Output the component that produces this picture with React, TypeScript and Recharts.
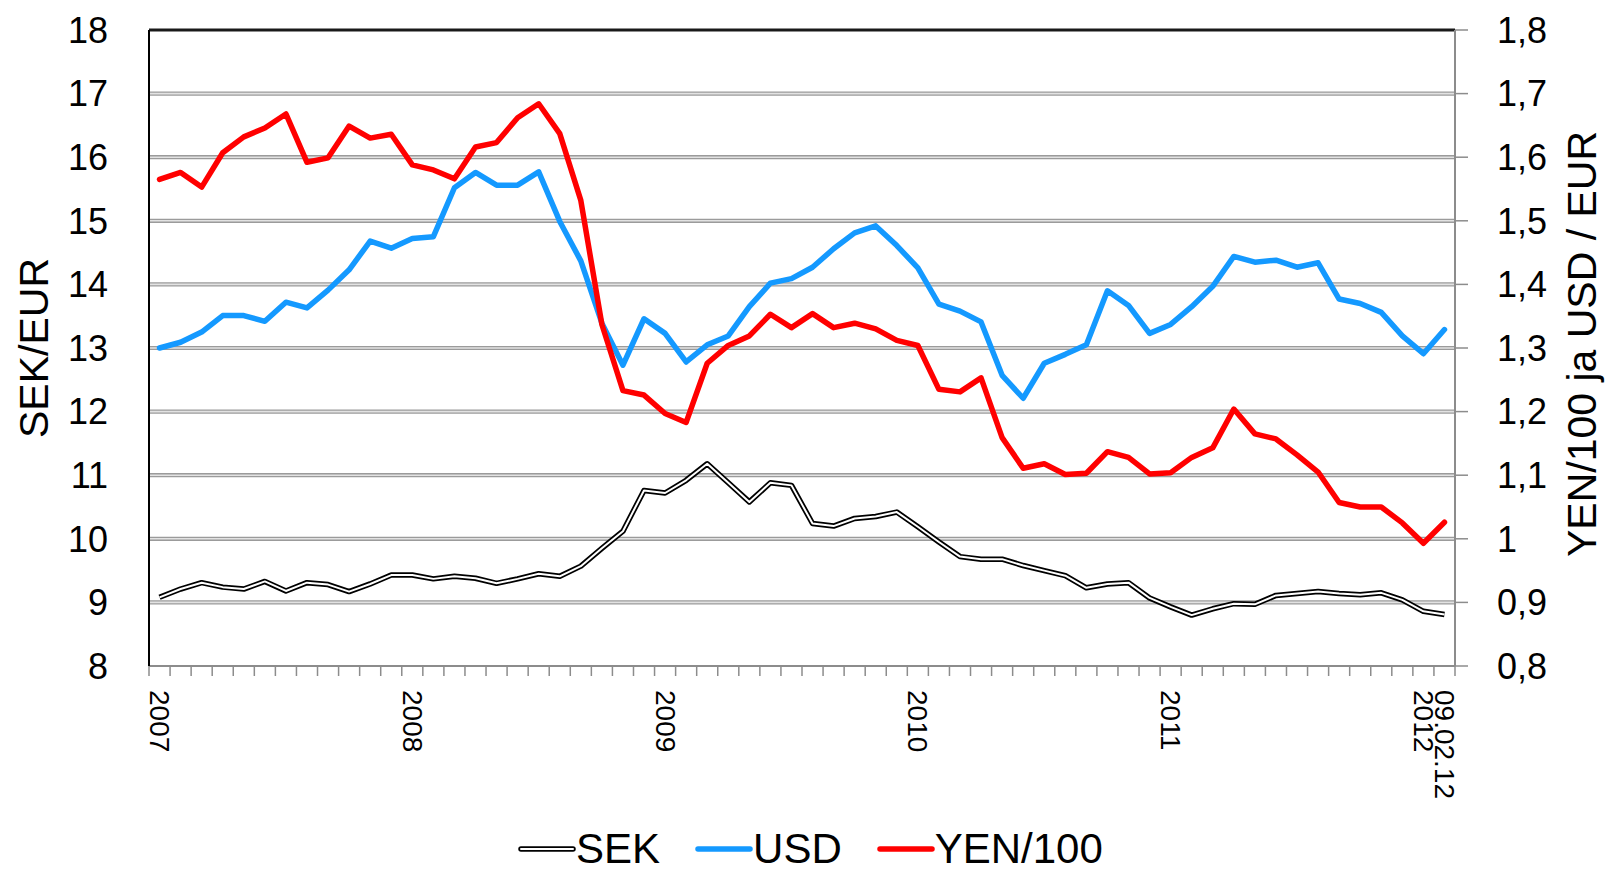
import { LineChart, Line, XAxis, YAxis, CartesianGrid, ReferenceLine, Label } from "recharts";

const categories = [
  "01/07", "02/07", "03/07", "04/07", "05/07", "06/07", "07/07", "08/07", "09/07", "10/07", "11/07", "12/07",
  "01/08", "02/08", "03/08", "04/08", "05/08", "06/08", "07/08", "08/08", "09/08", "10/08", "11/08", "12/08",
  "01/09", "02/09", "03/09", "04/09", "05/09", "06/09", "07/09", "08/09", "09/09", "10/09", "11/09", "12/09",
  "01/10", "02/10", "03/10", "04/10", "05/10", "06/10", "07/10", "08/10", "09/10", "10/10", "11/10", "12/10",
  "01/11", "02/11", "03/11", "04/11", "05/11", "06/11", "07/11", "08/11", "09/11", "10/11", "11/11", "12/11",
  "01/12", "09.02.12",
];

const tickCategories = ["01/07", "01/08", "01/09", "01/10", "01/11", "01/12", "09.02.12"];
const tickLabels = ["2007", "2008", "2009", "2010", "2011", "2012", "09.02.12"];

// SEK/EUR (left axis)
const sek = [
  9.08, 9.21, 9.31, 9.24, 9.21, 9.33, 9.18, 9.31, 9.28, 9.17, 9.29, 9.43,
  9.43, 9.37, 9.41, 9.38, 9.30, 9.37, 9.45, 9.41, 9.57, 9.85, 10.12, 10.76,
  10.72, 10.92, 11.18, 10.88, 10.58, 10.88, 10.84, 10.24, 10.20, 10.32, 10.35, 10.42,
  10.19, 9.95, 9.72, 9.68, 9.68, 9.58, 9.50, 9.42, 9.23, 9.29, 9.31, 9.07,
  8.93, 8.80, 8.90, 8.98, 8.97, 9.11, 9.14, 9.17, 9.14, 9.12, 9.15, 9.04,
  8.86, 8.81,
];

// USD/EUR (right axis)
const usd = [
  1.300, 1.309, 1.325, 1.351, 1.351, 1.342, 1.372, 1.363, 1.391, 1.423, 1.468, 1.457,
  1.472, 1.475, 1.552, 1.576, 1.556, 1.556, 1.577, 1.499, 1.437, 1.339, 1.273, 1.346,
  1.323, 1.278, 1.305, 1.319, 1.365, 1.402, 1.409, 1.427, 1.456, 1.481, 1.492, 1.461,
  1.426, 1.369, 1.358, 1.341, 1.257, 1.221, 1.276, 1.290, 1.305, 1.390, 1.367, 1.323,
  1.337, 1.365, 1.397, 1.444, 1.435, 1.438, 1.427, 1.434, 1.377, 1.370, 1.356, 1.319,
  1.291, 1.329,
];

// YEN/100 per EUR (right axis)
const yen = [
  1.565, 1.576, 1.553, 1.607, 1.632, 1.646, 1.668, 1.592, 1.599, 1.649, 1.630, 1.636,
  1.588, 1.580, 1.566, 1.616, 1.623, 1.662, 1.684, 1.637, 1.532, 1.337, 1.233, 1.226,
  1.197, 1.183, 1.276, 1.304, 1.319, 1.353, 1.332, 1.354, 1.332, 1.339, 1.330, 1.312,
  1.304, 1.235, 1.231, 1.253, 1.159, 1.111, 1.118, 1.101, 1.103, 1.137, 1.128, 1.102,
  1.104, 1.128, 1.143, 1.204, 1.165, 1.157, 1.132, 1.105, 1.057, 1.050, 1.050, 1.025,
  0.993, 1.026,
];

const leftTicks = [8, 9, 10, 11, 12, 13, 14, 15, 16, 17, 18];
const gridValues = [9, 10, 11, 12, 13, 14, 15, 16, 17];
const rightTicks = [0.8, 0.9, 1.0, 1.1, 1.2, 1.3, 1.4, 1.5, 1.6, 1.7, 1.8];

const data = categories.map((c, i) => ({ t: i + 0.5, cat: c, sek: sek[i], usd: usd[i], yen: yen[i] }));
const boundaries = [...categories.map((_, i) => i), categories.length];

const W = 1610;
const H = 869;
const LEFT_W = 149;
const RIGHT_W = 155;
const PLOT_W = W - LEFT_W - RIGHT_W;
const BAND = PLOT_W / categories.length;
const FONT = "'Liberation Sans', Arial, sans-serif";
const BLUE = "#1499FF";
const RED = "#FF0000";
const GRAY = "#8c8c8c";

const fmtRight = (v: number) => String(Math.round(v * 10) / 10).replace(".", ",");

function MonthTick(props: any) {
  const { x, y, payload } = props;
  const cat = categories[payload.value];
  const li = tickCategories.indexOf(cat);
  return (
    <g>
      <line x1={x} x2={x} y1={y} y2={y + 10} stroke={GRAY} strokeWidth={1.5} />
      {li >= 0 && (
        <text
          transform={`translate(${x + BAND / 2}, ${y + 24}) rotate(90)`}
          textAnchor="start"
          dominantBaseline="central"
          fontSize={28}
          fontFamily={FONT}
          fill="#000"
        >
          {tickLabels[li]}
        </text>
      )}
    </g>
  );
}

function AxisTitle({ viewBox, text, dx, dy }: any) {
  const cx = viewBox.x + dx;
  const cy = viewBox.y + viewBox.height / 2 + dy;
  return (
    <text
      transform={`translate(${cx}, ${cy}) rotate(-90)`}
      textAnchor="middle"
      dominantBaseline="central"
      fontSize={41}
      fontFamily={FONT}
      fill="#000"
    >
      {text}
    </text>
  );
}

function LegendIcon({ color, double }: { color: string; double?: boolean }) {
  return (
    <svg width={58} height={12} style={{ display: "block" }}>
      {double ? (
        <>
          <line x1={3} x2={55} y1={6} y2={6} stroke="#000" strokeWidth={5.5} strokeLinecap="round" />
          <line x1={3} x2={55} y1={6} y2={6} stroke="#fff" strokeWidth={2} strokeLinecap="round" />
        </>
      ) : (
        <line x1={3} x2={55} y1={6} y2={6} stroke={color} strokeWidth={5.5} strokeLinecap="round" />
      )}
    </svg>
  );
}

const legendItems = [
  { name: "SEK", color: "#000", double: true },
  { name: "USD", color: BLUE },
  { name: "YEN/100", color: RED },
];

export default function App() {
  return (
    <div style={{ position: "absolute", left: 0, top: 0, width: W, height: H, background: "#fff" }}>
      <LineChart width={W} height={H} data={data} margin={{ top: 30, right: 0, bottom: 73, left: 0 }}>
        <CartesianGrid yAxisId="left" vertical={false} horizontalValues={gridValues} stroke="#9b9b9b" strokeWidth={4.2} />
        <CartesianGrid yAxisId="left" vertical={false} horizontalValues={gridValues} stroke="#e2e2e2" strokeWidth={1.6} />
        <XAxis
          dataKey="t"
          type="number"
          domain={[0, categories.length]}
          ticks={boundaries}
          interval={0}
          height={130}
          tickSize={0}
          tickMargin={0}
          tickLine={false}
          axisLine={{ stroke: GRAY, strokeWidth: 2 }}
          tick={<MonthTick />}
        />
        <YAxis
          yAxisId="left"
          orientation="left"
          width={LEFT_W}
          domain={[8, 18]}
          ticks={leftTicks}
          interval={0}
          tickLine={false}
          tickSize={0}
          tickMargin={41}
          axisLine={{ stroke: "#000", strokeWidth: 2 }}
          tick={{ fontSize: 36, fill: "#000", fontFamily: FONT }}
        >
          <Label content={(p: any) => <AxisTitle {...p} text="SEK/EUR" dx={34} dy={0} />} />
        </YAxis>
        <YAxis
          yAxisId="right"
          orientation="right"
          width={RIGHT_W}
          domain={[0.8, 1.8]}
          ticks={rightTicks}
          interval={0}
          tickSize={13}
          tickMargin={29}
          tickLine={{ stroke: GRAY, strokeWidth: 1.5 }}
          axisLine={{ stroke: GRAY, strokeWidth: 2 }}
          tickFormatter={fmtRight}
          tick={{ fontSize: 36, fill: "#000", fontFamily: FONT }}
        >
          <Label content={(p: any) => <AxisTitle {...p} text="YEN/100 ja USD / EUR" dx={127} dy={-4} />} />
        </YAxis>
        <ReferenceLine yAxisId="left" y={18} stroke="#1a1a1a" strokeWidth={3} />
        <Line yAxisId="left" dataKey="sek" stroke="#000" strokeWidth={5.5} dot={false} activeDot={false} isAnimationActive={false} strokeLinejoin="round" />
        <Line yAxisId="left" dataKey="sek" stroke="#fff" strokeWidth={2} dot={false} activeDot={false} isAnimationActive={false} strokeLinejoin="round" />
        <Line yAxisId="right" dataKey="usd" stroke={BLUE} strokeWidth={5.5} dot={false} activeDot={false} isAnimationActive={false} strokeLinejoin="round" strokeLinecap="round" />
        <Line yAxisId="right" dataKey="yen" stroke={RED} strokeWidth={5.5} dot={false} activeDot={false} isAnimationActive={false} strokeLinejoin="round" strokeLinecap="round" />
      </LineChart>
      <div
        style={{
          position: "absolute",
          left: 518,
          top: 828,
          height: 42,
          display: "flex",
          alignItems: "center",
          fontFamily: FONT,
          fontSize: 42,
          lineHeight: "42px",
          color: "#000",
        }}
      >
        {legendItems.map((it, i) => (
          <div key={it.name} style={{ display: "flex", alignItems: "center", marginLeft: i === 0 ? 0 : 35 }}>
            <LegendIcon color={it.color} double={it.double} />
            <span>{it.name}</span>
          </div>
        ))}
      </div>
    </div>
  );
}
